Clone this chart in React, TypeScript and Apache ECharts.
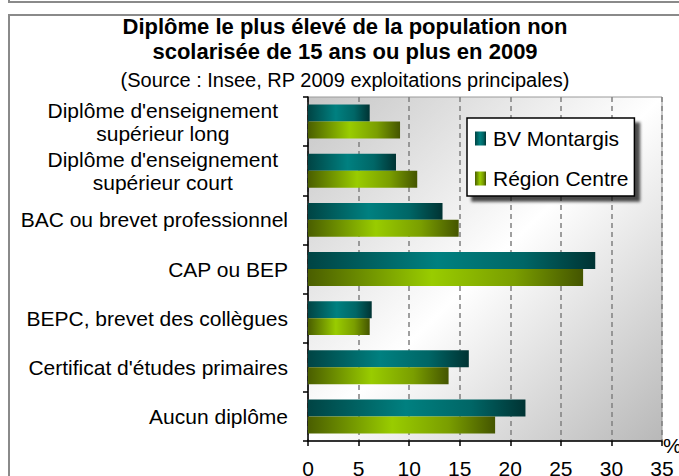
import React, { useEffect, useRef } from "react";
import * as echarts from "echarts";

const categories = [
  "Diplôme d'enseignement\nsupérieur long",
  "Diplôme d'enseignement\nsupérieur court",
  "BAC ou brevet professionnel",
  "CAP ou BEP",
  "BEPC, brevet des collègues",
  "Certificat d'études primaires",
  "Aucun diplôme",
];
const bvMontargis = [6.1, 8.7, 13.3, 28.4, 6.3, 15.9, 21.5];
const regionCentre = [9.1, 10.8, 14.9, 27.2, 6.1, 13.9, 18.5];
const seriesNames = ["BV Montargis", "Région Centre"];
const titleLines = [
  "Diplôme le plus élevé de la population non",
  "scolarisée de 15 ans ou plus en 2009",
];
const subtitle = "(Source : Insee, RP 2009 exploitations principales)";

const FONT = "Liberation Sans";

export default function App() {
  const ref = useRef<HTMLDivElement>(null);
  useEffect(() => {
    if (!ref.current) return;
    const chart = echarts.init(ref.current, undefined, { renderer: "svg" });
    const teal = new echarts.graphic.LinearGradient(0, 0, 1, 0, [
      { offset: 0, color: "#004444" },
      { offset: 0.45, color: "#008080" },
      { offset: 0.75, color: "#006666" },
      { offset: 1, color: "#003333" },
    ]);
    const green = new echarts.graphic.LinearGradient(0, 0, 1, 0, [
      { offset: 0, color: "#4a5e00" },
      { offset: 0.45, color: "#99cc00" },
      { offset: 0.75, color: "#7a9e00" },
      { offset: 1, color: "#445500" },
    ]);
    const bg = new echarts.graphic.LinearGradient(0, 0, 1, 1, [
      { offset: 0, color: "#c6c6c6" },
      { offset: 0.5, color: "#ffffff" },
      { offset: 1, color: "#b8b8b8" },
    ]);
    chart.setOption({
      animation: false,
      backgroundColor: "#ffffff",
      textStyle: { fontFamily: FONT },
      title: [
        {
          text: titleLines.join("\n"),
          left: 340,
          top: 9,
          textAlign: "center",
          textStyle: {
            fontFamily: FONT,
            fontSize: 22,
            fontWeight: "bold",
            color: "#000",
            lineHeight: 25,
          },
        },
        {
          text: subtitle,
          left: 340,
          top: 65,
          textAlign: "center",
          textStyle: {
            fontFamily: FONT,
            fontSize: 20,
            fontWeight: "normal",
            color: "#000",
          },
        },
      ],
      graphic: [
        {
          type: "polyline",
          shape: { points: [[9, 0], [9, 2], [679, 2]] },
          style: { stroke: "#8a8a8a", lineWidth: 2, fill: "none" },
        },
        {
          type: "polyline",
          shape: { points: [[9, 476], [9, 15], [679, 15]] },
          style: { stroke: "#8a8a8a", lineWidth: 2, fill: "none" },
        },
      ],
      legend: {
        orient: "vertical",
        left: 467,
        top: 118,
        padding: [10, 6, 7, 8],
        itemGap: 19,
        itemWidth: 11,
        itemHeight: 14,
        icon: "rect",
        backgroundColor: "#ffffff",
        borderColor: "#000000",
        borderWidth: 1.5,
        shadowColor: "rgba(0,0,0,0.7)",
        shadowBlur: 3,
        shadowOffsetX: 5,
        shadowOffsetY: 5,
        textStyle: { fontFamily: FONT, fontSize: 21, color: "#000", padding: [0, 0, 0, 2] },
        data: seriesNames,
      },
      grid: {
        left: 308,
        right: 17,
        top: 97,
        bottom: 35,
        outerBoundsMode: "none",
        containLabel: false,
        show: true,
        backgroundColor: bg,
        borderColor: "#9a9a9a",
        borderWidth: 1,
      },
      xAxis: {
        type: "value",
        min: 0,
        max: 35,
        interval: 5,
        name: "%",
        nameLocation: "end",
        nameGap: 1,
        nameTextStyle: {
          fontFamily: FONT,
          fontSize: 21,
          color: "#000",
          align: "left",
          verticalAlign: "top",
          padding: [-6, 0, 0, 0],
        },
        axisLine: { show: true, lineStyle: { color: "#000", width: 1.5 } },
        axisTick: { show: true, length: 5, lineStyle: { color: "#000", width: 1.5 } },
        axisLabel: { fontFamily: FONT, fontSize: 21, color: "#000", margin: 17 },
        splitLine: {
          show: true,
          lineStyle: { color: "#808080", type: [5, 4], width: 1.5 },
        },
      },
      yAxis: {
        type: "category",
        inverse: true,
        data: categories,
        axisLine: { show: true, lineStyle: { color: "#000", width: 1.5 } },
        axisTick: { show: true, length: 5, lineStyle: { color: "#000", width: 1.5 } },
        axisLabel: {
          fontFamily: FONT,
          fontSize: 21,
          color: "#000",
          margin: 20,
          formatter: (v: string) =>
            v.indexOf("\n") >= 0
              ? v.split("\n").map((l) => "{c|" + l + "}").join("\n")
              : v,
          rich: {
            c: {
              fontFamily: FONT,
              fontSize: 21,
              color: "#000",
              align: "center",
              lineHeight: 23,
              padding: [0, 10, 0, 0],
            },
          },
        },
        splitLine: { show: false },
      },
      series: [
        {
          name: seriesNames[0],
          type: "bar",
          data: bvMontargis,
          barGap: "0%",
          barCategoryGap: "31%",
          itemStyle: { color: teal },
        },
        {
          name: seriesNames[1],
          type: "bar",
          data: regionCentre,
          barGap: "0%",
          barCategoryGap: "31%",
          itemStyle: { color: green },
        },
      ],
    });
    return () => chart.dispose();
  }, []);
  return (
    <div
      ref={ref}
      style={{ position: "absolute", left: 0, top: 0, width: 679, height: 476 }}
    />
  );
}
